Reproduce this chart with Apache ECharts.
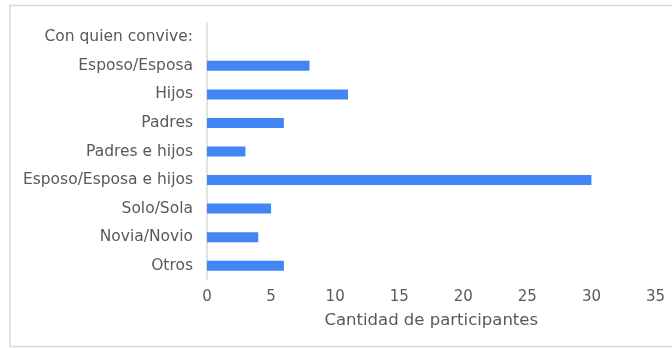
<!DOCTYPE html>
<html>
<head>
<meta charset="utf-8">
<script src="https://cdn.jsdelivr.net/npm/echarts@6/dist/echarts.min.js"></script>
<style>
html,body{margin:0;padding:0;background:#fff;}
#chart{width:672px;height:348px;}
</style>
</head>
<body>
<div id="chart"></div>
<script>
var categories = ["Con quien convive:", "Esposo/Esposa", "Hijos", "Padres", "Padres e hijos", "Esposo/Esposa e hijos", "Solo/Sola", "Novia/Novio", "Otros"];
var values = [null, 8, 11, 6, 3, 30, 5, 4, 6];
var xTicks = [0, 5, 10, 15, 20, 25, 30, 35];
var xAxisName = "Cantidad de participantes";

var chart = echarts.init(document.getElementById('chart'), null, {renderer: 'canvas'});
var font = 'DejaVu Sans';
chart.setOption({
  animation: false,
  backgroundColor: '#ffffff',
  graphic: [{
    type: 'rect',
    shape: {x: 10, y: 5.5, width: 700, height: 341},
    style: {fill: 'none', stroke: '#d9d9d9', lineWidth: 1.5},
    silent: true
  }],
  grid: {left: 207, right: 16.5, top: 23, bottom: 68, containLabel: false},
  xAxis: {
    type: 'value',
    min: xTicks[0],
    max: xTicks[xTicks.length - 1],
    interval: 5,
    name: xAxisName,
    nameLocation: 'middle',
    nameGap: 32,
    nameTextStyle: {color: '#595959', fontSize: 16.5, fontFamily: font},
    axisLine: {show: false},
    axisTick: {show: false},
    splitLine: {show: false},
    axisLabel: {color: '#595959', fontSize: 15, fontFamily: font, margin: 10}
  },
  yAxis: {
    type: 'category',
    data: categories,
    inverse: true,
    axisLine: {show: true, lineStyle: {color: '#d9d9d9', width: 1.5}},
    axisTick: {show: false},
    axisLabel: {color: '#595959', fontSize: 15.5, fontFamily: font, margin: 14}
  },
  series: [{
    type: 'bar',
    data: values,
    barWidth: 10,
    itemStyle: {color: '#4285f4'}
  }]
});
</script>
</body>
</html>
